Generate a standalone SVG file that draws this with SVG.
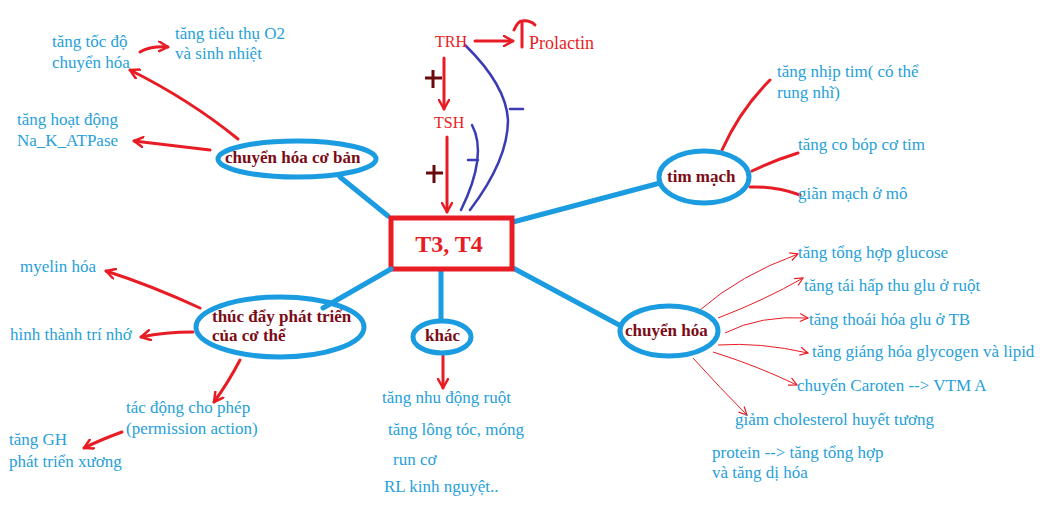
<svg xmlns="http://www.w3.org/2000/svg" width="1048" height="514" viewBox="0 0 1048 514">
<style>
.t{font-family:"Liberation Serif","Times New Roman",serif;font-size:17px;fill:#279fd9}
.b{font-family:"Liberation Serif","Times New Roman",serif;font-size:17px;font-weight:bold;fill:#7b0c16}
.r{font-family:"Liberation Serif","Times New Roman",serif;font-size:16px;fill:#e81c24}
.el{fill:#fff;stroke:#1b9ce0;stroke-width:5}
.bl{stroke:#1b9ce0;stroke-width:5;fill:none;stroke-linecap:round}
.ra{stroke:#e81c24;stroke-width:3;fill:none;stroke-linecap:round;stroke-linejoin:round}
.rt{stroke:#e81c24;stroke-width:1;fill:none}
.fb{stroke:#3b3bb5;stroke-width:2.5;fill:none;stroke-linecap:round}
.pl{stroke:#6b0a0a;stroke-width:3;fill:none}
</style>
<defs>
<marker id="ah" viewBox="0 0 12 12" refX="10" refY="6" markerWidth="12" markerHeight="12" markerUnits="userSpaceOnUse" orient="auto">
<path d="M1,1 L10,6 L1,11" fill="none" stroke="#e81c24" stroke-width="2.5" stroke-linecap="round" stroke-linejoin="round"/>
</marker>
<marker id="at" viewBox="0 0 10 10" refX="9" refY="5" markerWidth="10" markerHeight="10" markerUnits="userSpaceOnUse" orient="auto">
<path d="M1,1 L9,5 L1,9" fill="none" stroke="#e81c24" stroke-width="1.2"/>
</marker>
</defs>
<rect width="1048" height="514" fill="#fff"/>

<g id="connectors">
<line class="bl" x1="388" y1="216" x2="340" y2="177"/>
<line class="bl" x1="513" y1="222" x2="660" y2="183"/>
<line class="bl" x1="441" y1="271" x2="441" y2="321"/>
<line class="bl" x1="513" y1="268" x2="621" y2="326"/>

<!-- chuyển hóa cơ bản -->
<path class="ra" d="M238,139 Q190,100 130,70" marker-end="url(#ah)"/>
<path class="ra" d="M140,52 Q150,46 168,47" marker-end="url(#ah)"/>
<path class="ra" d="M210,150 Q175,146 134,141" marker-end="url(#ah)"/>

<!-- TRH / TSH -->
<path class="ra" d="M475,41 L513,41" marker-end="url(#ah)"/>
<path class="ra" d="M522,47 L522,22 M514,30 Q518,21 522,21 Q530,20 535,25"/>
<path class="ra" d="M444,58 L444,109" marker-end="url(#ah)"/>
<path class="pl" d="M425,78 L442,78 M433,70 L433,88"/>
<path class="ra" d="M447,137 L447,212" marker-end="url(#ah)"/>
<path class="pl" d="M426,173 L443,173 M434,165 L434,183"/>
<path class="fb" d="M465,45 Q506,85 508,120 Q508,160 470,210"/>
<path class="fb" d="M510,109 L523,109"/>
<path class="fb" d="M472,125 Q488,155 461,210"/>
<path class="fb" d="M468,160 L478,160"/>

<!-- tim mạch -->
<path class="ra" d="M722,150 Q740,110 770,80"/>
<path class="ra" d="M752,171 Q775,160 798,153"/>
<path class="ra" d="M750,187 Q775,186 800,195"/>

<!-- thúc đẩy phát triển -->
<path class="ra" d="M200,308 Q150,285 106,271" marker-end="url(#ah)"/>
<path class="ra" d="M193,332 Q165,332 141,337" marker-end="url(#ah)"/>
<path class="ra" d="M240,360 Q228,383 214,402" marker-end="url(#ah)"/>
<path class="ra" d="M122,432 Q100,440 84,448" marker-end="url(#ah)"/>

<!-- khác -->
<path class="ra" d="M443,356 L443,388" marker-end="url(#ah)"/>

<!-- chuyển hóa -->
<path class="rt" d="M700,310 Q740,275 798,254" marker-end="url(#at)"/>
<path class="rt" d="M718,318 Q765,300 803,278" marker-end="url(#at)"/>
<path class="rt" d="M725,333 Q760,315 808,318" marker-end="url(#at)"/>
<path class="rt" d="M718,345 Q760,342 808,353" marker-end="url(#at)"/>
<path class="rt" d="M713,352 Q755,365 797,385" marker-end="url(#at)"/>
<path class="rt" d="M693,358 Q720,388 747,415" marker-end="url(#at)"/>
</g>

<g id="t3t4">
<rect x="391" y="218" width="121" height="51" fill="#fff" stroke="#e81c24" stroke-width="5"/>
<text x="449" y="252" text-anchor="middle" font-family="Liberation Serif, serif" font-size="24" font-weight="bold" fill="#e81c24">T3, T4</text>
</g>

<g id="trh"><text class="r" x="435" y="47">TRH</text></g>
<g id="prolactin"><text class="r" x="529" y="49" style="font-size:18px">Prolactin</text></g>
<g id="tsh"><text class="r" x="434" y="128">TSH</text></g>

<g id="chuyen-hoa-co-ban">
<ellipse class="el" cx="297" cy="159" rx="79" ry="18"/>
<text class="b" x="225" y="163">chuyển hóa cơ bản</text>
</g>
<g id="tang-toc-do"><text class="t" x="52" y="47">tăng tốc độ</text><text class="t" x="52" y="68">chuyển hóa</text></g>
<g id="tang-tieu-thu"><text class="t" x="175" y="39">tăng tiêu thụ O2</text><text class="t" x="175" y="59">và sinh nhiệt</text></g>
<g id="tang-hoat-dong"><text class="t" x="17" y="125">tăng hoạt động</text><text class="t" x="17" y="146">Na_K_ATPase</text></g>

<g id="tim-mach">
<ellipse class="el" cx="704" cy="177" rx="45" ry="26"/>
<text class="b" x="667" y="182">tim mạch</text>
</g>
<g id="tang-nhip-tim"><text class="t" x="777" y="77">tăng nhịp tim( có thể</text><text class="t" x="777" y="98">rung nhĩ)</text></g>
<g id="tang-co-bop"><text class="t" x="798" y="150">tăng co bóp cơ tim</text></g>
<g id="gian-mach"><text class="t" x="798" y="199">giãn mạch ở mô</text></g>

<g id="thuc-day">
<ellipse class="el" cx="280" cy="327" rx="84" ry="30"/>
<line class="bl" x1="391" y1="269" x2="323" y2="308"/>
<text class="b" x="212" y="322">thúc đẩy phát triển</text>
<text class="b" x="212" y="341">của cơ thể</text>
</g>
<g id="myelin"><text class="t" x="20" y="272">myelin hóa</text></g>
<g id="tri-nho"><text class="t" x="10" y="340">hình thành trí nhớ</text></g>
<g id="tac-dong"><text class="t" x="126" y="413">tác động cho phép</text><text class="t" x="126" y="434">(permission action)</text></g>
<g id="tang-gh"><text class="t" x="9" y="445">tăng GH</text><text class="t" x="9" y="467">phát triển xương</text></g>

<g id="khac">
<ellipse class="el" cx="442" cy="337" rx="29" ry="16"/>
<text class="b" x="425" y="341">khác</text>
</g>
<g id="khac-list">
<text class="t" x="382" y="403">tăng nhu động ruột</text>
<text class="t" x="388" y="435">tăng lông tóc, móng</text>
<text class="t" x="393" y="465">run cơ</text>
<text class="t" x="384" y="492">RL kinh nguyệt..</text>
</g>

<g id="chuyen-hoa">
<ellipse class="el" cx="669" cy="331" rx="49" ry="25"/>
<text class="b" x="625" y="336">chuyển hóa</text>
</g>
<g id="ch-glucose"><text class="t" x="798" y="258">tăng tổng hợp glucose</text></g>
<g id="ch-hap-thu"><text class="t" x="804" y="291">tăng tái hấp thu glu ở ruột</text></g>
<g id="ch-thoai-hoa"><text class="t" x="809" y="325">tăng thoái hóa glu ở TB</text></g>
<g id="ch-giang-hoa"><text class="t" x="812" y="357">tăng giáng hóa glycogen và lipid</text></g>
<g id="ch-caroten"><text class="t" x="797" y="391">chuyển Caroten --&gt; VTM A</text></g>
<g id="ch-cholesterol"><text class="t" x="735" y="425">giảm cholesterol huyết tương</text></g>
<g id="ch-protein"><text class="t" x="712" y="458">protein --&gt; tăng tổng hợp</text><text class="t" x="712" y="478">và tăng dị hóa</text></g>
</svg>
